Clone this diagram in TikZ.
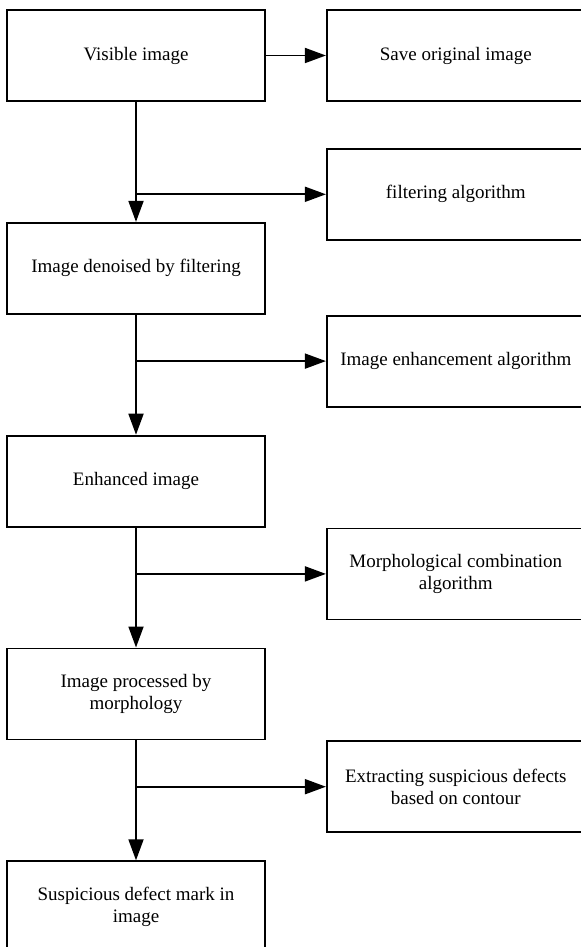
\documentclass[tikz,border=0pt]{standalone}
\usepackage{fontspec}
\setmainfont{Liberation Serif}
\usetikzlibrary{arrows.meta,positioning}
\tikzset{
  stage/.style={draw,line width=0.9pt,minimum width=129pt,minimum height=45.5pt,%
    inner sep=2pt,align=center,font=\fontsize{9.5}{11}\selectfont},
  flow/.style={-{Triangle[length=10.5pt,width=7.5pt]},line width=0.9pt},
}
\begin{document}
\begin{tikzpicture}[x=0.5pt,y=-0.5pt,node distance=60pt]
\useasboundingbox (0,0) rectangle (581,947);
\node[stage] (vis) at (136,55.5) {Visible image};
\node[stage,below=of vis] (den) {Image denoised by filtering};
\node[stage,below=of den] (enh) {Enhanced image};
\node[stage,below=of enh] (mor) {Image processed by\\morphology};
\node[stage,below=of mor] (mark) {Suspicious defect mark in\\image};
\node[stage,right=30pt of vis] (save) {Save original image};
\node[stage,right=30pt of den.south east,anchor=north west] (enhalg) {Image enhancement algorithm};
\node[stage,above=37pt of enhalg] (filt) {filtering algorithm};
\node[stage,right=30pt of enh.south east,anchor=north west] (moralg) {Morphological combination\\algorithm};
\node[stage,right=30pt of mor.south east,anchor=north west] (ext) {Extracting suspicious defects\\based on contour};
\draw[flow] (vis) -- (save);
\draw[flow] (vis) -- (den);
\draw[flow] (vis.south |- filt) -- (filt);
\draw[flow] (den) -- (enh);
\draw[flow] (den.south |- enhalg) -- (enhalg);
\draw[flow] (enh) -- (mor);
\draw[flow] (enh.south |- moralg) -- (moralg);
\draw[flow] (mor) -- (mark);
\draw[flow] (mor.south |- ext) -- (ext);
\end{tikzpicture}
\end{document}
